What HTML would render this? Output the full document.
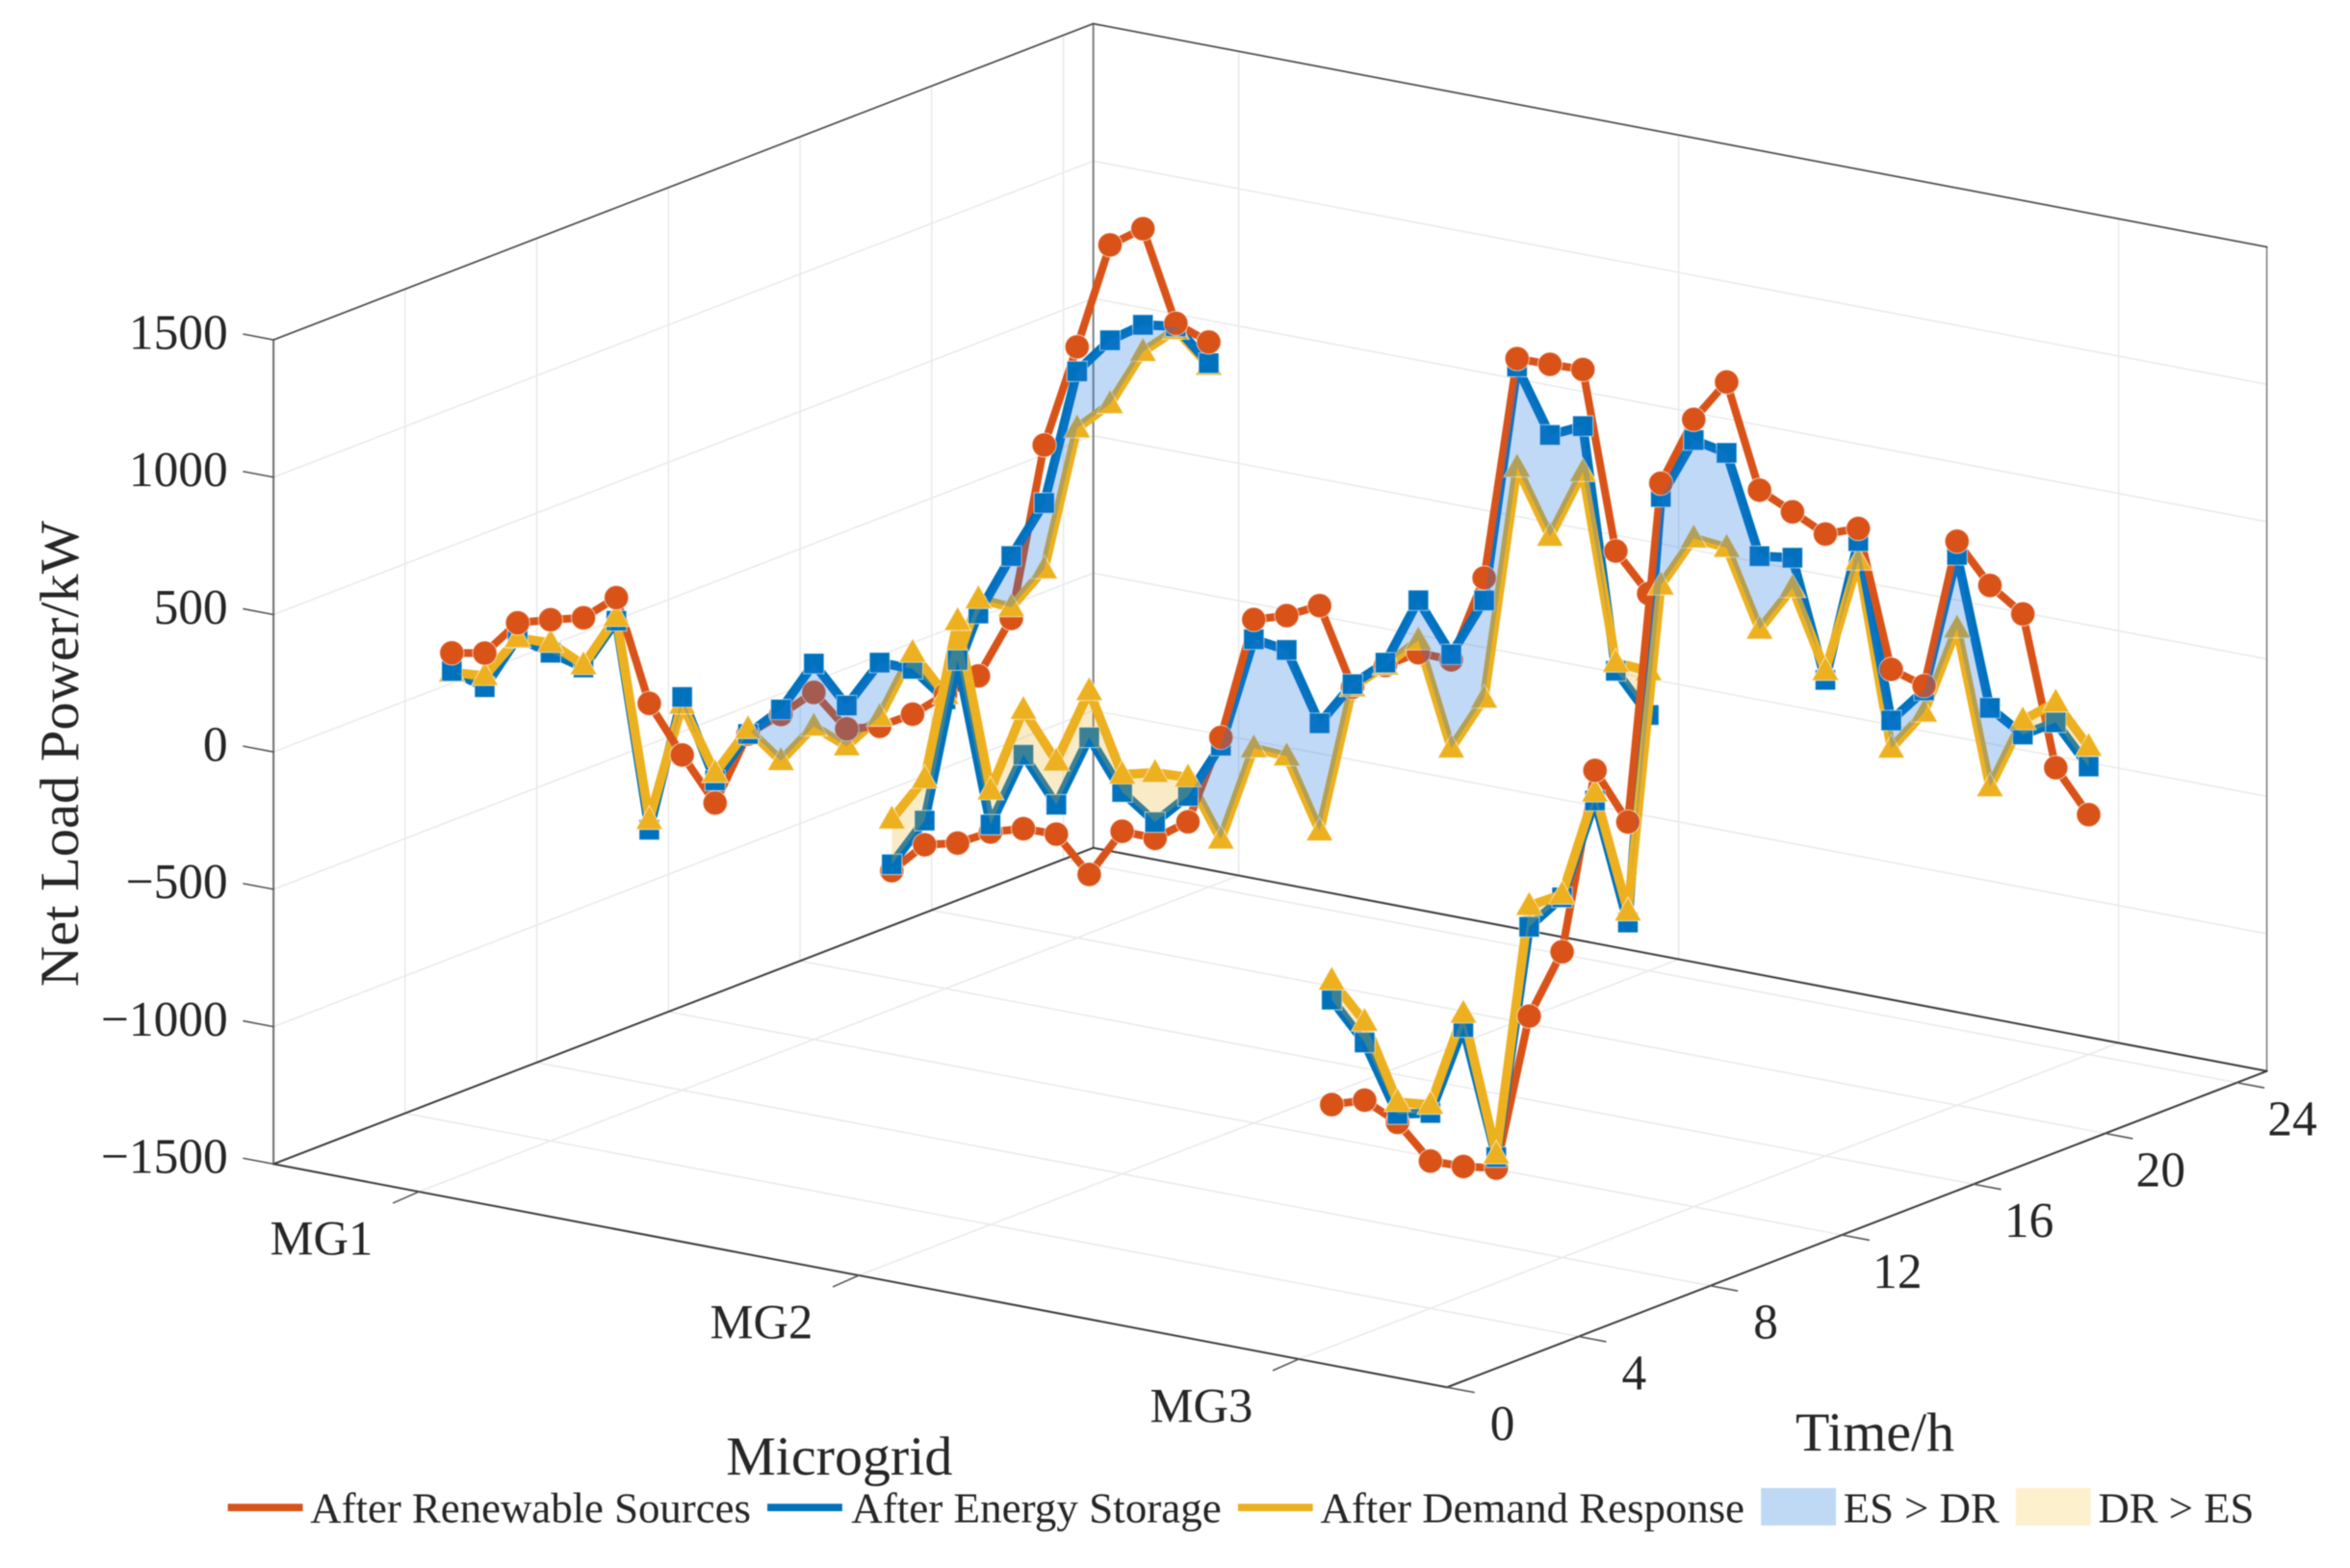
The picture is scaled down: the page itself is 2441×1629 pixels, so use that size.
<!DOCTYPE html>
<html lang="en">
<head>
<meta charset="utf-8">
<title>Net Load Power by Microgrid</title>
<style>
html,body{margin:0;padding:0;background:#fff;overflow:hidden;}
svg{display:block;filter:blur(0.6px);}
text{font-family:"Liberation Serif",serif;fill:#262626;}
</style>
</head>
<body>
<svg id="chart" xmlns="http://www.w3.org/2000/svg" width="2441" height="1629" viewBox="0 0 1568 1046.4">
  <rect x="0" y="0" width="1568" height="1047" fill="#ffffff"/>
  <g id="grid"></g>
  <g id="box"></g>
  <g id="ticks"></g>
  <g id="labels"></g>
  <g id="marks"></g>

  <text transform="translate(52,503) rotate(-90)" text-anchor="middle" font-size="37" textLength="311" lengthAdjust="spacingAndGlyphs">Net Load Power/kW</text>
  <text x="560" y="984" text-anchor="middle" font-size="37" textLength="151" lengthAdjust="spacingAndGlyphs">Microgrid</text>
  <text x="1251" y="968" text-anchor="middle" font-size="37" textLength="106" lengthAdjust="spacingAndGlyphs">Time/h</text>

  <g>
    <line x1="152" y1="1006" x2="202" y2="1006" stroke="#D95319" stroke-width="5"/>
    <text x="207" y="1016" font-size="28.5" textLength="294" lengthAdjust="spacingAndGlyphs">After Renewable Sources</text>
    <line x1="512" y1="1006" x2="562" y2="1006" stroke="#0072BD" stroke-width="5"/>
    <text x="568" y="1016" font-size="28.5" textLength="247" lengthAdjust="spacingAndGlyphs">After Energy Storage</text>
    <line x1="826" y1="1006" x2="876" y2="1006" stroke="#EDB120" stroke-width="5"/>
    <text x="881" y="1016" font-size="28.5" textLength="283" lengthAdjust="spacingAndGlyphs">After Demand Response</text>
    <rect x="1175" y="993" width="50" height="25" fill="#BFD9F5"/>
    <text x="1230" y="1016" font-size="28.5" textLength="104" lengthAdjust="spacingAndGlyphs">ES &gt; DR</text>
    <rect x="1345" y="993" width="50" height="25" fill="#FDF0CC"/>
    <text x="1400" y="1016" font-size="28.5" textLength="104" lengthAdjust="spacingAndGlyphs">DR &gt; ES</text>
  </g>
</svg>

<script>
const categories = ['MG1', 'MG2', 'MG3'];
const timeTicks = [0, 4, 8, 12, 16, 20, 24];
const powerTicks = [-1500, -1000, -500, 0, 500, 1000, 1500];
const hours = [1, 2, 3, 4, 5, 6, 7, 8, 9, 10, 11, 12, 13, 14, 15, 16, 17, 18, 19, 20, 21, 22, 23, 24];

const renewableMG1 = [415, 368, 432, 397, 358, 385, -46, -280, -501, -296, -271, -237, -416, -453, -455, -430, -408, -245, 340, 651, 976, 989, 598, 484];
const storageMG1 = [349, 244, 377, 277, 177, 301, -506, -69, -419, -296, -253, -132, -331, -221, -290, -447, -181, -18, 129, 562, 629, 639, 587, 407];
const demandMG1 = [344, 285, 377, 313, 186, 315, -470, -96, -392, -278, -440, -361, -479, -418, -231, -430, -128, -204, -112, 355, 397, 541, 575, 398];

const renewableMG2 = [-73, -25, -65, -71, -105, -171, -364, -253, -325, -311, -50, 333, 301, 291, -52, -19, -19, -91, 161, 913, 846, 781, 74, -127];
const storageMG2 = [-50, 63, 601, -44, 164, -64, 135, -110, -266, -217, -80, 261, 176, -137, -41, -9, 172, -71, 79, 884, 589, 575, -362, -569];
const demandMG2 = [114, 215, 744, 81, 328, 94, 304, -46, -86, -149, -421, -135, -211, -530, -52, -19, 26, -413, -278, 517, 219, 408, -332, -409];

const renewableMG3 = [-620, -650, -777, -964, -1030, -1082, -575, -387, 227, -7, 1180, 1366, 1456, 1016, 891, 764, 738, 179, 73, 553, 346, 196, -410, -627];
const storageMG3 = [-238, -440, -747, -789, -523, -1042, -250, -189, 117, -373, 1130, 1291, 1198, 776, 724, 233, 692, -7, 56, 503, -100, -243, -245, -452];
const demandMG3 = [-168, -364, -703, -759, -473, -1032, -173, -179, 147, -332, 808, 933, 853, 509, 614, 266, 621, -109, -24, 236, -388, -191, -172, -380];

const renewableSeries = [renewableMG1, renewableMG2, renewableMG3];
const storageSeries = [storageMG1, storageMG2, storageMG3];
const demandSeries = [demandMG1, demandMG2, demandMG3];

const SVG_NS = 'http://www.w3.org/2000/svg';
const RED = '#D95319';
const BLUE = '#0072BD';
const YELLOW = '#EDB120';

// Axis functions: orthographic projection of the MATLAB-style 3-D box
function xFrac(mg) { return 0.1239 + 0.3749 * mg; }
function tFrac(t) { return t / 24.91; }
function zFrac(v) { return (v + 1500) / 3000; }
function projectF(fx, ft, fz) {
  return [182.5 + 783 * fx + 547 * ft, 776.8 + 149 * fx - 211 * ft - 550 * fz];
}
function project(mg, t, v) { return projectF(xFrac(mg), tFrac(t), zFrac(v)); }

function make(tag, attrs, parent) {
  const node = document.createElementNS(SVG_NS, tag);
  for (const k in attrs) node.setAttribute(k, attrs[k]);
  parent.appendChild(node);
  return node;
}
function segAttrs(a, b, color, width) {
  return { x1: a[0], y1: a[1], x2: b[0], y2: b[1], stroke: color, 'stroke-width': width, 'stroke-linecap': 'round' };
}

const gridG = document.getElementById('grid');
const boxG = document.getElementById('box');
const ticksG = document.getElementById('ticks');
const labelsG = document.getElementById('labels');
const marksG = document.getElementById('marks');
const GRID = '#EAEAEA';

// Grid lines on walls and floor
powerTicks.forEach(function (v) {
  const fz = zFrac(v);
  const l1 = make('line', segAttrs(projectF(0, 0, fz), projectF(0, 1, fz), GRID, 1), gridG);
  
  
  const l2 = make('line', segAttrs(projectF(0, 1, fz), projectF(1, 1, fz), GRID, 1), gridG);
  
  
});
timeTicks.forEach(function (t) {
  const ft = tFrac(t);
  const l1 = make('line', segAttrs(projectF(0, ft, 0), projectF(0, ft, 1), GRID, 1), gridG);
  
  
  const l2 = make('line', segAttrs(projectF(0, ft, 0), projectF(1, ft, 0), GRID, 1), gridG);
  
  
});
categories.forEach(function (c, i) {
  const fx = xFrac(i);
  const l1 = make('line', segAttrs(projectF(fx, 1, 0), projectF(fx, 1, 1), GRID, 1), gridG);
  
  
  const l2 = make('line', segAttrs(projectF(fx, 0, 0), projectF(fx, 1, 0), GRID, 1), gridG);
  
  
});

// Box edges
const boxEdges = [
  [[0, 0, 0], [0, 0, 1], 1.3, '#6e6e6e'],
  [[0, 1, 0], [0, 1, 1], 1.3, '#808080'],
  [[1, 1, 0], [1, 1, 1], 1.1, '#8a8a8a'],
  [[0, 0, 1], [0, 1, 1], 1.1, '#4d4d4d'],
  [[0, 1, 1], [1, 1, 1], 1.1, '#4d4d4d'],
  [[0, 0, 0], [0, 1, 0], 1.3, '#3d3d3d'],
  [[0, 1, 0], [1, 1, 0], 1.3, '#3d3d3d'],
  [[0, 0, 0], [1, 0, 0], 1.3, '#3d3d3d'],
  [[1, 0, 0], [1, 1, 0], 1.3, '#3d3d3d']
];
boxEdges.forEach(function (e) {
  const a = projectF(e[0][0], e[0][1], e[0][2]);
  const b = projectF(e[1][0], e[1][1], e[1][2]);
  const line = make('line', segAttrs(a, b, e[3], e[2]), boxG);
  
  
});

// Ticks and tick labels
powerTicks.forEach(function (v) {
  const p = projectF(0, 0, zFrac(v));
  const tick = make('line', segAttrs(p, [p[0] - 20, p[1] - 3.8], '#555555', 1), ticksG);
  
  
  const label = make('text', { x: 152, y: p[1] + 6, 'text-anchor': 'end', 'font-size': 33 }, labelsG);
  
  
  label.textContent = v < 0 ? '\u2212' + Math.abs(v) : String(v);
});
categories.forEach(function (c, i) {
  const p = projectF(xFrac(i), 0, 0);
  const tick = make('line', segAttrs(p, [p[0] - 17, p[1] + 7.5], '#555555', 1), ticksG);
  
  
  const label = make('text', { x: p[0] - 65, y: p[1] + 42, 'text-anchor': 'middle', 'font-size': 32.5 }, labelsG);
  
  
  label.textContent = c;
});
timeTicks.forEach(function (t) {
  const p = projectF(1, tFrac(t), 0);
  const tick = make('line', segAttrs(p, [p[0] + 18, p[1] + 3.4], '#555555', 1), ticksG);
  
  
  const label = make('text', { x: p[0] + 37, y: p[1] + 35.2, 'text-anchor': 'middle', 'font-size': 33 }, labelsG);
  
  
  label.textContent = String(t);
});

// Series marks: within each microgrid, higher values sit closer to the camera
function drawMarker(kind, p, color, group) {
  let node;
  if (kind === 'circle') {
    node = make('circle', { cx: p[0], cy: p[1], r: 8.1 }, group);
  } else if (kind === 'square') {
    node = make('rect', { x: p[0] - 6.8, y: p[1] - 6.8, width: 13.6, height: 13.6 }, group);
  } else {
    node = make('polygon', { points: (p[0]) + ',' + (p[1] - 9.5) + ' ' + (p[0] + 9) + ',' + (p[1] + 6.4) + ' ' + (p[0] - 9) + ',' + (p[1] + 6.4) }, group);
  }
  node.setAttribute('fill', color);
  node.setAttribute('stroke', '#ffffff');
  node.setAttribute('stroke-opacity', '0.6');
  node.setAttribute('stroke-width', '0.7');
  return node;
}

function drawFill(points, positive, group) {
  const poly = make('polygon', {
    points: points.map(function (p) { return p[0] + ',' + p[1]; }).join(' '),
    fill: positive ? '#1E78E1' : YELLOW,
    'fill-opacity': positive ? 0.28 : 0.25,
    stroke: 'none'
  }, group);
  
  
}

function drawFills(mg, upper, lower, group) {
  let topRun = [];
  let botRun = [];
  let sign = 0;
  function flush() {
    if (topRun.length > 1) {
      drawFill(topRun.concat(botRun.slice().reverse()), sign > 0, group);
    }
    topRun = [];
    botRun = [];
  }
  for (let i = 0; i < hours.length; i++) {
    const d = upper[i] - lower[i];
    const s = d >= 0 ? 1 : -1;
    if (i > 0 && s !== sign) {
      const dPrev = upper[i - 1] - lower[i - 1];
      const f = dPrev / (dPrev - d);
      const tc = hours[i - 1] + f * (hours[i] - hours[i - 1]);
      const vc = upper[i - 1] + f * (upper[i] - upper[i - 1]);
      const pc = project(mg, tc, vc);
      topRun.push(pc);
      botRun.push(pc);
      flush();
      topRun.push(pc);
      botRun.push(pc);
    }
    sign = s;
    topRun.push(project(mg, hours[i], upper[i]));
    botRun.push(project(mg, hours[i], lower[i]));
  }
  flush();
}

categories.forEach(function (c, mg) {
  const group = make('g', {}, marksG);
  
  
  const defs = [
    { name: 'renewable', vals: renewableSeries[mg], color: RED, width: 5.2, marker: 'circle' },
    { name: 'storage', vals: storageSeries[mg], color: BLUE, width: 6.2, marker: 'square' },
    { name: 'demand', vals: demandSeries[mg], color: YELLOW, width: 6.2, marker: 'triangle' }
  ];
  const items = [];
  defs.forEach(function (d) {
    d.vals.forEach(function (v, i) {
      const p = project(mg, hours[i], v);
      items.push({ depth: v + 0.5, kind: 'marker', series: d, p: p });
      if (i > 0) {
        const q = project(mg, hours[i - 1], d.vals[i - 1]);
        items.push({ depth: Math.min(v, d.vals[i - 1]), kind: 'seg', series: d, a: q, b: p });
      }
    });
  });
  items.sort(function (a, b) { return a.depth - b.depth; });
  items.forEach(function (it) {
    if (it.kind === 'seg') {
      const seg = make('line', segAttrs(it.a, it.b, it.series.color, it.series.width), group);
      
      
    } else {
      const mk = drawMarker(it.series.marker, it.p, it.series.color, group);
      
      
    }
  });
  drawFills(mg, storageSeries[mg], demandSeries[mg], group);
});
</script>
</body>
</html>
